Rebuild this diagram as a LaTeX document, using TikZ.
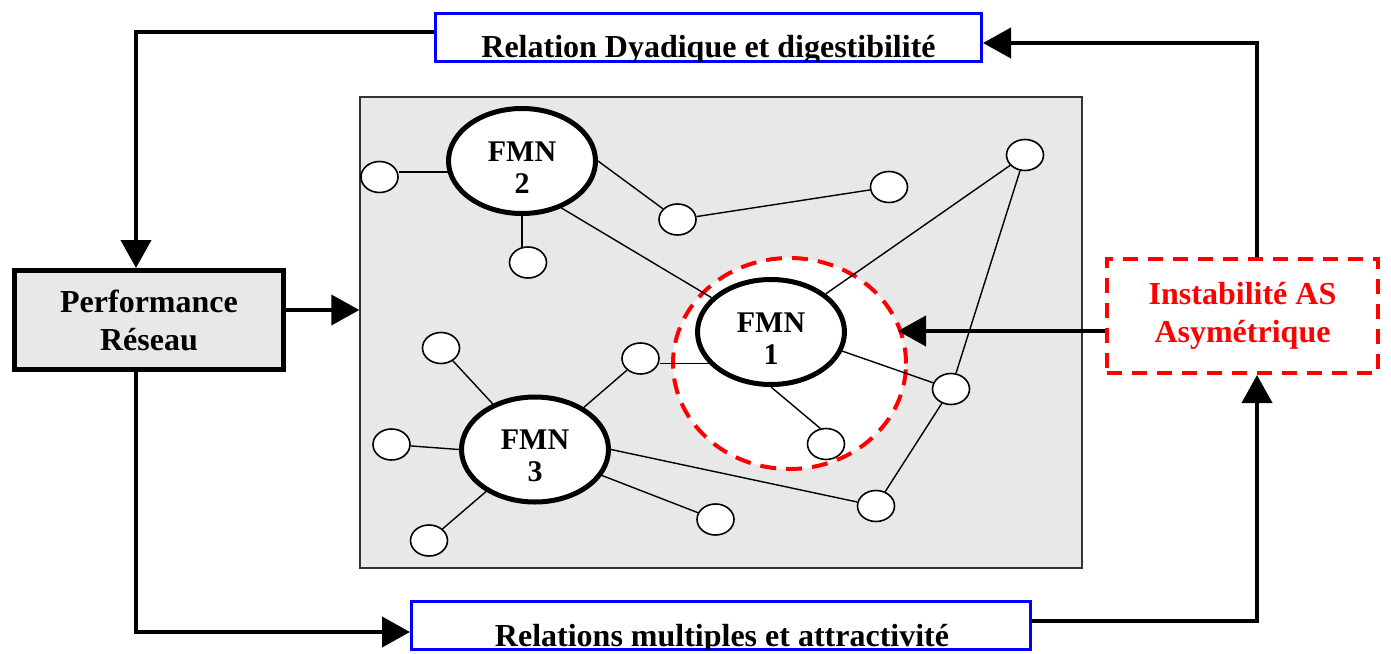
\documentclass[tikz,border=0pt]{standalone}
\usepackage{fontspec}
\setmainfont{Liberation Serif}
\usetikzlibrary{shapes.geometric, arrows.meta, positioning}
\definecolor{netgray}{HTML}{E8E8E8}
\definecolor{relblue}{HTML}{0000FF}
\definecolor{alertred}{HTML}{FF0000}
\pgfdeclarelayer{back}
\pgfdeclarelayer{edges}
\pgfsetlayers{back,edges,main}
\tikzset{
    fmn/.style={ellipse, draw, line width=2.5pt, fill=white, minimum width=73.5pt, minimum height=52.5pt, inner sep=0pt, align=center, text height=32pt, font=\fontsize{15}{16}\selectfont\bfseries},
    dot/.style={ellipse, draw, line width=0.8pt, fill=white, minimum width=18.5pt, minimum height=15.5pt, inner sep=0pt},
    link/.style={line width=0.7pt},
    arr/.style={line width=2pt, -{Triangle[length=14pt, width=15pt]}},
    relbox/.style={draw=relblue, line width=1.5pt, fill=white, inner sep=0pt, minimum height=24pt},
    reltext/.style={font=\fontsize{16}{19}\selectfont\bfseries, anchor=base, inner sep=0pt},
}

\begin{document}
\begin{tikzpicture}[x=0.5pt, y=-0.5pt]
    \useasboundingbox (0,0) rectangle (1391,653);

    % network
    \begin{pgfonlayer}{back}
        \node[draw=black!80, line width=0.7pt, fill=netgray, minimum width=361pt, minimum height=235.5pt] (net) at (721,332.5) {};
        \node[ellipse, draw=alertred, fill=white, line width=2pt, dash pattern=on 8pt off 5pt, minimum width=116.5pt, minimum height=105.5pt] (ring) at (789.5,363.5) {};
    \end{pgfonlayer}

    \node[fmn] (fmn1) at (771,332) {FMN\\1};
    \node[fmn] (fmn2) at (522,161) {FMN\\2};
    \node[fmn] (fmn3) at (535,449.5) {FMN\\3};

    \node[dot] (s1) at (379.5,177) {};
    \node[dot] (s2) at (677.5,219.5) {};
    \node[dot] (s3) at (889,187) {};
    \node[dot] (s4) at (1025,155) {};
    \node[dot] (s5) at (528,262.5) {};
    \node[dot] (s6) at (441,348) {};
    \node[dot] (s7) at (640.5,358.5) {};
    \node[dot] (s8) at (391.5,444.5) {};
    \node[dot] (s9) at (951,389) {};
    \node[dot] (s10) at (826,444) {};
    \node[dot] (s11) at (876,506) {};
    \node[dot] (s12) at (429,540.5) {};
    \node[dot] (s13) at (715.5,519.5) {};

    \begin{pgfonlayer}{edges}
        \draw[link] ([yshift=2.5pt]s1.east) -- ([yshift=2.5pt]s1.east -| fmn2.center);
        \draw[link] (fmn2.east) -- (s2);
        \draw[link] (fmn2) -- (fmn2 |- s5);
        \draw[link] (fmn2.-50) -- (fmn1.150);
        \draw[link] (s2) -- (s3);
        \draw[link] (s4) -- (fmn1);
        \draw[link] (s4) -- (s9);
        \draw[link] (fmn1.-15) -- (s9);
        \draw[link] (fmn1.south) -- (s10.110);
        \draw[link] ([yshift=-2.5pt]s7.east) -- ([yshift=-2.5pt]s7.east -| fmn1.center);
        \draw[link] (s6) -- (fmn3);
        \draw[link] (s7) -- (fmn3);
        \draw[link] (s8) -- (fmn3.west);
        \draw[link] (s12) -- (fmn3);
        \draw[link] (s13) -- (fmn3);
        \draw[link] (fmn3.east) -- (s11);
        \draw[link] (s11) -- (s9);
    \end{pgfonlayer}

    % boxes
    \node[draw, line width=2.5pt, fill=netgray, minimum width=134.5pt, minimum height=49.5pt, align=center, font=\fontsize{16}{19}\selectfont\bfseries] (perf) at (149,320) {Performance\\R\'eseau};
    \node[draw=alertred, line width=2pt, dash pattern=on 7.5pt off 5pt, fill=white, minimum width=135.5pt, minimum height=57pt, align=center, text=alertred, font=\fontsize{16}{19}\selectfont\bfseries] (insta) at (1242.5,316) {Instabilit\'e AS\\Asym\'etrique};

    \node[relbox, minimum width=273pt] (dyad) at (708.5,37.5) {};
    \node[relbox, minimum width=309.5pt] (multi) at (721,625.5) {};
    \begin{scope}
        \clip ([shift={(0.75pt,0.75pt)}]dyad.south west) rectangle ([shift={(-0.75pt,-0.75pt)}]dyad.north east);
        \node[reltext] (dyadtxt) at (708.5,57) {Relation Dyadique et digestibilit\'e};
    \end{scope}
    \begin{scope}
        \clip ([shift={(0.75pt,0.75pt)}]multi.south west) rectangle ([shift={(-0.75pt,-0.75pt)}]multi.north east);
        \node[reltext] (multitxt) at (722,646) {Relations multiples et attractivit\'e};
    \end{scope}

    % arrows
    \coordinate (ringtip) at ([xshift=-5pt]ring.east);
    \draw[arr] ([yshift=2.75pt]dyad.west) -| ([xshift=-6.5pt]perf.north);
    \draw[arr] ([xshift=-6.5pt]perf.south) |- ([yshift=-3.25pt]multi.west);
    \draw[arr] ([yshift=2.25pt]multi.east) -| ([xshift=7.25pt]insta.south);
    \draw[arr] ([xshift=7.25pt]insta.north) |- ([yshift=-2.75pt]dyad.east);
    \draw[arr] ([yshift=5pt]perf.east) -- ([yshift=5pt]perf.east -| net.west);
    \draw[arr] ([yshift=-7.5pt]insta.west) -- ([yshift=-7.5pt]insta.west -| ringtip);
\end{tikzpicture}
\end{document}
